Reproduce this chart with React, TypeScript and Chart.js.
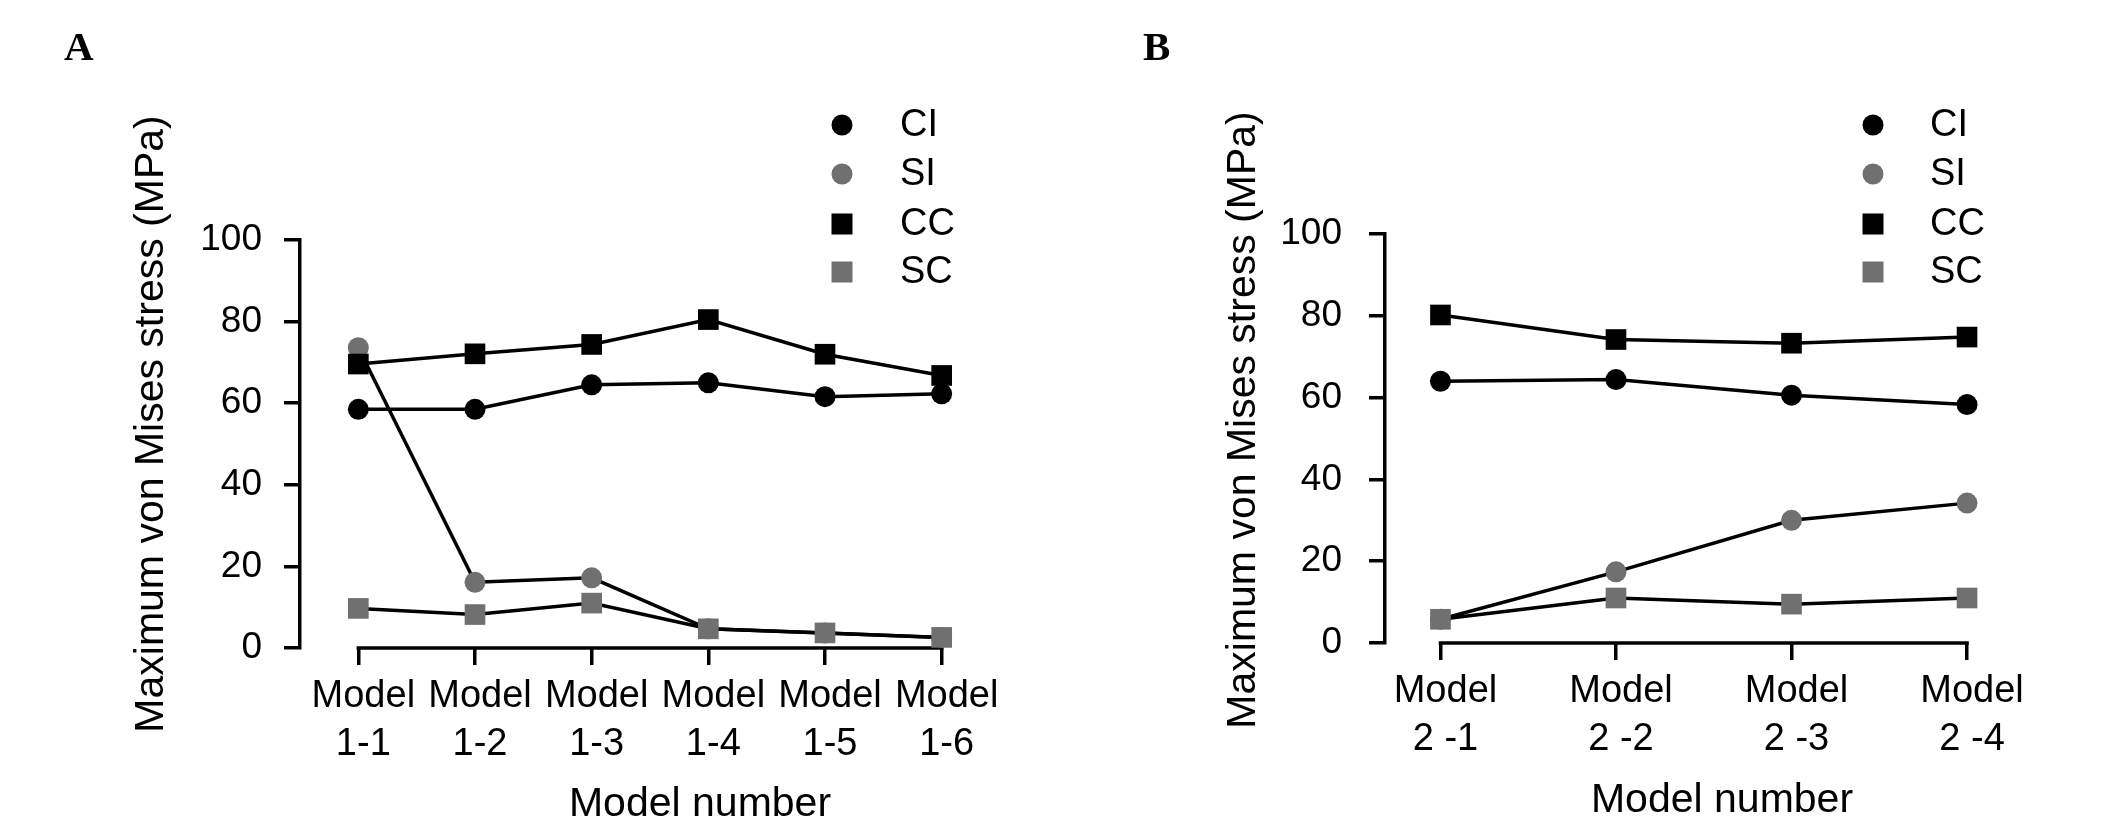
import React, { useEffect, useRef } from 'react';
import { Chart, registerables } from 'chart.js';

Chart.register(...registerables);
Chart.defaults.font.family = '"Liberation Sans", Arial, sans-serif';

// series (same for both panels)
const seriesNames = ['CI', 'SI', 'CC', 'SC'];
const seriesColors = ['#000000', '#707070', '#000000', '#707070'];
const seriesShapes = ['circle', 'circle', 'rect', 'rect'];
const drawOrder = [2, 4, 3, 1]; // higher = drawn first (behind)

// panel A
const modelsA = [['Model', '1-1'], ['Model', '1-2'], ['Model', '1-3'], ['Model', '1-4'], ['Model', '1-5'], ['Model', '1-6']];
const ciA = [58.5, 58.5, 64.5, 65.0, 61.6, 62.3];
const siA = [73.6, 16.1, 17.2, 4.7, 3.7, 2.6];
const ccA = [69.6, 72.1, 74.4, 80.5, 72.0, 66.8];
const scA = [9.7, 8.2, 11.0, 4.7, 3.7, 2.6];

// panel B
const modelsB = [['Model', '2 -1'], ['Model', '2 -2'], ['Model', '2 -3'], ['Model', '2 -4']];
const ciB = [64.0, 64.4, 60.6, 58.3];
const siB = [5.8, 17.4, 30.0, 34.2];
const ccB = [80.2, 74.2, 73.3, 74.8];
const scB = [5.8, 11.0, 9.5, 11.0];

const yMin = 0;
const yMax = 100;
const yStep = 20;

const yTitle = 'Maximum von Mises stress (MPa)';
const xTitle = 'Model number';

const W = 1063;
const H = 828;
const LW = 3.5;

interface PanelSpec {
  letter: string;
  left: number;
  labels: string[][];
  values: number[][];
  axisX: number;
  top: number;
  bottom: number;
  right: number;
  pad: number;
  yLabelPad: number;
  letterX: number;
  yTitleX: number;
  yTitleY: number;
  xTitleX: number;
  xTitleY: number;
  legendX: number;
  legendTextX: number;
}

const panels: PanelSpec[] = [
  {
    letter: 'A', left: 0, labels: modelsA, values: [ciA, siA, ccA, scA],
    axisX: 300, top: 240, bottom: 648, right: 1000, pad: 0.5, yLabelPad: 22,
    letterX: 64, yTitleX: 163, yTitleY: 424, xTitleX: 700, xTitleY: 816,
    legendX: 842, legendTextX: 900,
  },
  {
    letter: 'B', left: 1063, labels: modelsB, values: [ciB, siB, ccB, scB],
    axisX: 322, top: 234, bottom: 643, right: 959.5, pad: 0.316, yLabelPad: 27,
    letterX: 80, yTitleX: 192, yTitleY: 420, xTitleX: 659, xTitleY: 812,
    legendX: 810, legendTextX: 867,
  },
];

const legendRows = [125, 174, 224, 272];

const makeDecor = (p: PanelSpec) => ({
  id: 'decor' + p.letter,
  beforeDatasetsDraw(chart: any) {
    const { ctx, chartArea } = chart;
    const xs = chart.scales.x;
    ctx.save();
    ctx.strokeStyle = '#000';
    ctx.lineWidth = LW;
    ctx.beginPath();
    ctx.moveTo(xs.getPixelForValue(0) - LW / 2, chartArea.bottom);
    ctx.lineTo(xs.getPixelForValue(p.labels.length - 1) + LW / 2, chartArea.bottom);
    ctx.stroke();
    ctx.restore();
  },
  afterDraw(chart: any) {
    const ctx = chart.ctx;
    ctx.save();
    ctx.fillStyle = '#000';

    // panel letter
    ctx.font = 'bold 41px "Liberation Serif", "Times New Roman", serif';
    ctx.textAlign = 'left';
    ctx.textBaseline = 'alphabetic';
    ctx.fillText(p.letter, p.letterX, 60);

    // axis titles
    ctx.font = '41px "Liberation Sans", Arial, sans-serif';
    ctx.textAlign = 'center';
    ctx.fillText(xTitle, p.xTitleX, p.xTitleY);
    ctx.save();
    ctx.translate(p.yTitleX, p.yTitleY);
    ctx.rotate(-Math.PI / 2);
    ctx.fillText(yTitle, 0, 0);
    ctx.restore();

    // legend
    ctx.font = '38px "Liberation Sans", Arial, sans-serif';
    ctx.textAlign = 'left';
    ctx.textBaseline = 'middle';
    seriesNames.forEach((name, k) => {
      const y = legendRows[k];
      ctx.fillStyle = seriesColors[k];
      ctx.beginPath();
      if (seriesShapes[k] === 'circle') ctx.arc(p.legendX, y, 10.5, 0, Math.PI * 2);
      else ctx.rect(p.legendX - 10.5, y - 10.5, 21, 21);
      ctx.fill();
      ctx.fillStyle = '#000';
      ctx.fillText(name, p.legendTextX, y + 1);
    });
    ctx.restore();
  },
});

const PanelChart: React.FC<{ p: PanelSpec }> = ({ p }) => {
  const canvasRef = useRef<HTMLCanvasElement>(null);
  const chartRef = useRef<Chart | null>(null);

  useEffect(() => {
    if (!canvasRef.current) return;
    if (chartRef.current) chartRef.current.destroy();
    const n = p.labels.length;

    chartRef.current = new Chart(canvasRef.current, {
      type: 'line',
      data: {
        datasets: seriesNames.map((name, k) => ({
          label: name,
          data: p.values[k].map((v, i) => ({ x: i, y: v })),
          borderColor: '#000',
          borderWidth: LW,
          tension: 0,
          fill: false,
          pointStyle: seriesShapes[k] as any,
          pointRadius: seriesShapes[k] === 'rect' ? 14.6 : 10.5,
          pointBackgroundColor: seriesColors[k],
          pointBorderColor: seriesColors[k],
          pointBorderWidth: 0,
          order: drawOrder[k],
          clip: false as any,
        })),
      },
      options: {
        responsive: false,
        animation: false,
        devicePixelRatio: 1,
        events: [],
        layout: {
          autoPadding: false,
          padding: { top: p.top, right: W - p.right, left: 0, bottom: 0 },
        },
        plugins: {
          legend: { display: false },
          tooltip: { enabled: false },
        },
        scales: {
          x: {
            type: 'linear',
            min: -p.pad,
            max: n - 1 + p.pad,
            afterBuildTicks: (s: any) => {
              s.ticks = p.labels.map((_, i) => ({ value: i }));
            },
            afterFit: (s: any) => {
              s.height = H - p.bottom;
            },
            border: { display: false },
            grid: { drawOnChartArea: false, drawTicks: true, tickLength: 17, color: '#000', lineWidth: LW },
            ticks: {
              callback: (v: any) => p.labels[Math.round(Number(v))],
              color: '#000',
              font: { size: 38, lineHeight: 1.25 },
              padding: 8,
              labelOffset: 5,
              maxRotation: 0,
              autoSkip: false,
            },
          },
          y: {
            min: yMin,
            max: yMax,
            afterFit: (s: any) => {
              s.width = p.axisX;
            },
            border: { display: true, color: '#000', width: LW },
            grid: { drawOnChartArea: false, drawTicks: true, tickLength: 16, color: '#000', lineWidth: LW },
            ticks: { stepSize: yStep, padding: p.yLabelPad, color: '#000', font: { size: 37 } },
          },
        },
      },
      plugins: [makeDecor(p)],
    });

    return () => {
      if (chartRef.current) {
        chartRef.current.destroy();
        chartRef.current = null;
      }
    };
  }, [p]);

  return (
    <canvas
      ref={canvasRef}
      width={W}
      height={H}
      style={{ position: 'absolute', left: p.left, top: 0, width: W, height: H, display: 'block' }}
    />
  );
};

export default function App() {
  return (
    <div style={{ position: 'fixed', left: 0, top: 0, width: 2126, height: 828, background: '#fff' }}>
      {panels.map((p) => (
        <PanelChart key={p.letter} p={p} />
      ))}
    </div>
  );
}
